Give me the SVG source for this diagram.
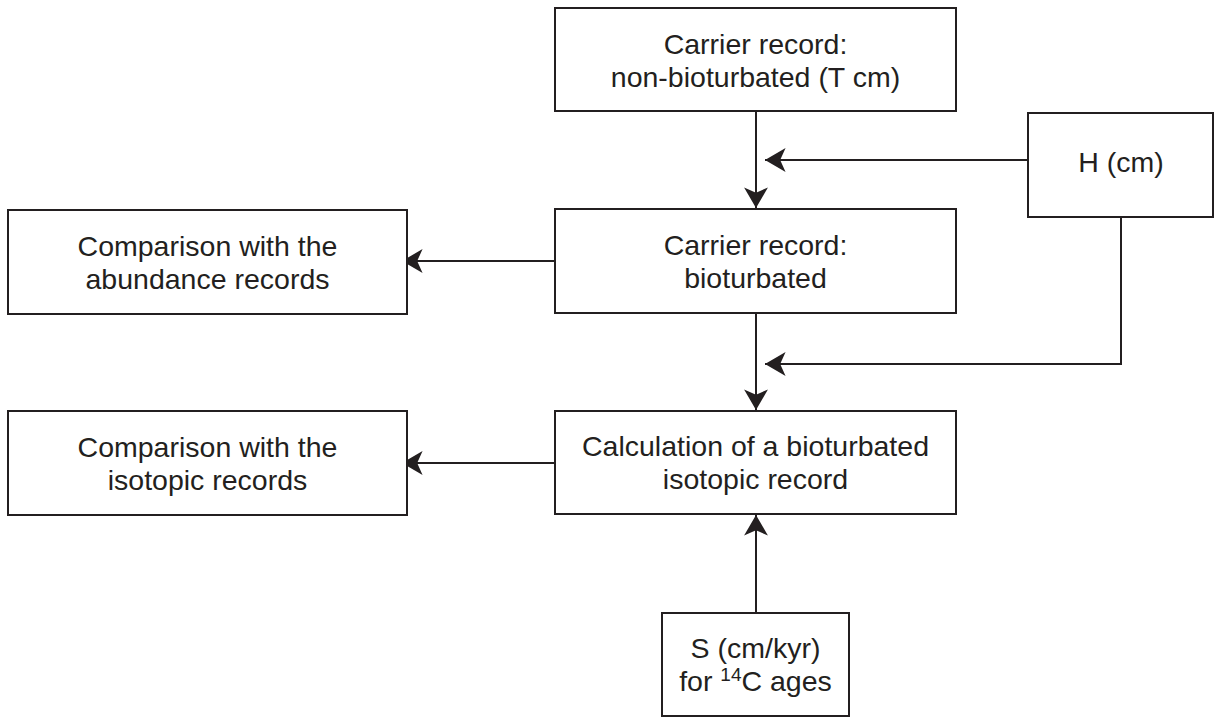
<svg xmlns="http://www.w3.org/2000/svg" width="1215" height="717" viewBox="0 0 1215 717">
<defs>
<style>
.box{fill:#fff;stroke:#231f20;stroke-width:2}
.t{font-family:"Liberation Sans",Arial,sans-serif;font-size:28.5px;fill:#231f20;text-anchor:middle}
.c{fill:none;stroke:#231f20;stroke-width:2}
</style>
<marker id="ah" markerUnits="userSpaceOnUse" markerWidth="24" markerHeight="26" refX="0" refY="0" viewBox="-20 -12 21 24" orient="auto">
<path d="M0,0 L-19,-11 L-14,0 L-19,11 Z" fill="#231f20"/>
</marker>
</defs>
<rect width="1215" height="717" fill="#fff"/>
<g id="connectors">
<line class="c" x1="756" y1="112" x2="756" y2="208" marker-end="url(#ah)"/>
<line class="c" x1="1028" y1="160" x2="765" y2="160" marker-end="url(#ah)"/>
<line class="c" x1="555" y1="261" x2="402" y2="261" marker-end="url(#ah)"/>
<line class="c" x1="756" y1="314" x2="756" y2="410" marker-end="url(#ah)"/>
<polyline class="c" points="1121,217 1121,364 765,364" marker-end="url(#ah)"/>
<line class="c" x1="555" y1="463" x2="402" y2="463" marker-end="url(#ah)"/>
<line class="c" x1="756" y1="613" x2="756" y2="515" marker-end="url(#ah)"/>
</g>
<g id="n1">
<rect class="box" x="555" y="8" width="401" height="103"/>
<text class="t" x="755.5" y="54">Carrier record:</text>
<text class="t" x="755.5" y="87">non-bioturbated (T cm)</text>
</g>
<g id="nH">
<rect class="box" x="1028" y="113" width="185" height="104"/>
<text class="t" x="1121" y="172">H (cm)</text>
</g>
<g id="n2">
<rect class="box" x="555" y="209" width="401" height="104"/>
<text class="t" x="755.5" y="255">Carrier record:</text>
<text class="t" x="755.5" y="288">bioturbated</text>
</g>
<g id="nA">
<rect class="box" x="8" y="210" width="399" height="104"/>
<text class="t" x="207.5" y="256">Comparison with the</text>
<text class="t" x="207.5" y="289">abundance records</text>
</g>
<g id="n3">
<rect class="box" x="555" y="411" width="401" height="103"/>
<text class="t" x="755.5" y="456">Calculation of a bioturbated</text>
<text class="t" x="755.5" y="489">isotopic record</text>
</g>
<g id="nI">
<rect class="box" x="8" y="411" width="399" height="104"/>
<text class="t" x="207.5" y="456.5">Comparison with the</text>
<text class="t" x="207.5" y="489.5">isotopic records</text>
</g>
<g id="nS">
<rect class="box" x="662" y="613" width="187" height="103"/>
<text class="t" x="755.5" y="658">S (cm/kyr)</text>
<text class="t" x="755.5" y="691">for <tspan font-size="19" dy="-10">14</tspan><tspan dy="10">C ages</tspan></text>
</g>
</svg>
